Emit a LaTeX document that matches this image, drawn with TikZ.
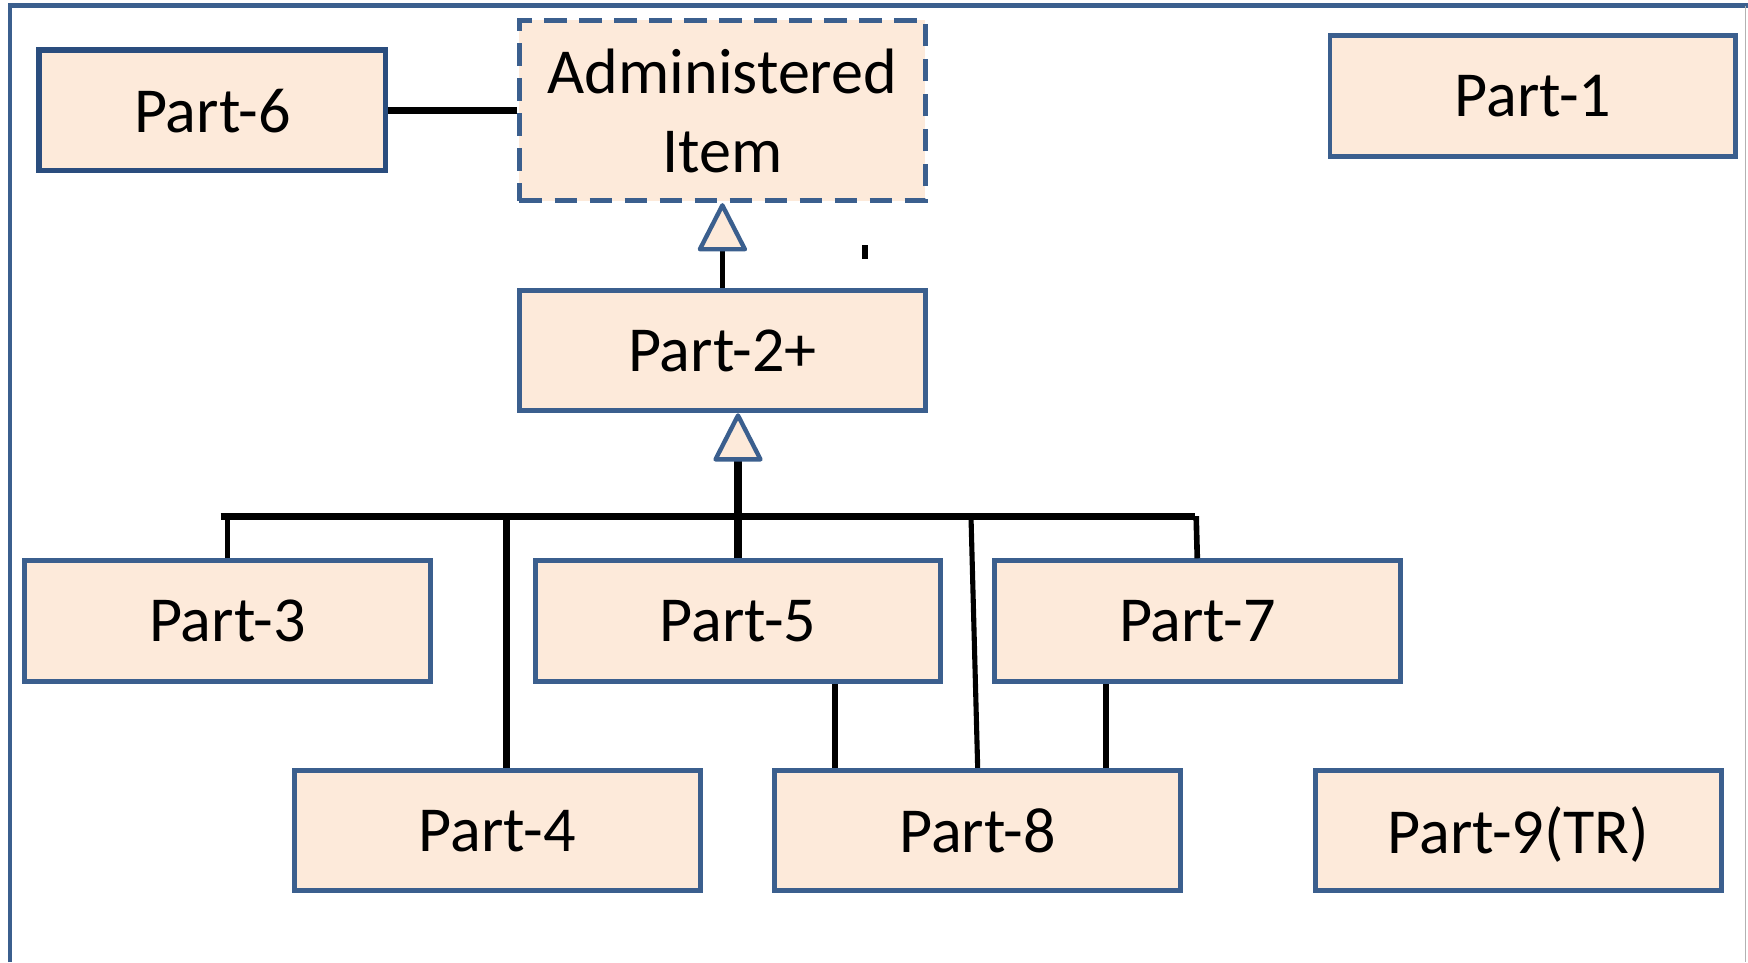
\documentclass[tikz,border=0pt]{standalone}
\usepackage{fontspec}
\setmainfont{Carlito}
\usepackage{tikz}
\usetikzlibrary{arrows.meta}
\definecolor{boxblue}{HTML}{3B5F8E}
\definecolor{boxdark}{HTML}{2A4D7E}
\definecolor{boxfill}{HTML}{FDEADA}
\def\px{0.0223cm}

\begin{document}
\begin{tikzpicture}[x=\px,y=-\px,
	partbox/.style={draw=boxblue,fill=boxfill,line width=2.8pt,inner sep=0pt,text depth=0pt,
		minimum width=364*\px,minimum height=108*\px,font=\fontsize{36.5}{45}\selectfont},
	link/.style={line width=3.2pt},
	buslink/.style={line width=4pt},
	inherit/.style={line width=3.2pt,-{Triangle[width=1.02cm,length=1.02cm,line width=2.5pt,round,color=boxblue,fill=boxfill]}}]
		\useasboundingbox (0,0) rectangle (1568,863);
		% frame
		\draw[boxblue,line width=2.8pt] (9,863) -- (9,5) -- (1568,5);
		\draw[black!30,line width=0.6pt] (1566,5) -- (1566,863);
		% boxes
		\node[partbox,draw=boxdark,line width=3.1pt,minimum width=311*\px] (p6) at (190.5,99) {Part-6};
		\node[partbox,dash pattern=on 0.45cm off 0.25cm,minimum height=162*\px,align=center] (ai) at (648,99) {Administered\\Item};
		\foreach \n/\x/\y/\t in {p1/1375/86/Part-1,p2/648/314.5/Part-2+,p3/204/557/Part-3,p5/662/557/Part-5,p7/1074/557/Part-7,p4/446/745/Part-4,p8/877/745/Part-8,p9/1362/745/Part-9(TR)} \node[partbox] (\n) at (\x,\y) {\t};
		% connectors
		\draw[link,line width=4.2pt] (p6.east) -- (ai.west);
		\draw[inherit] (p2.north) -- (ai.south);
		\coordinate (busL) at (198,463);
		\coordinate (busR) at (1072,463);
		\draw[buslink] (busL) -- (busR);
		\draw[inherit,line width=4pt] (p5.north) -- (p5.north |- p2.south);
		\draw[link] (p3.north) -- (p3.north |- busL);
		\draw[buslink] ([xshift=8*\px]p4.north) -- ([xshift=8*\px]p4.north |- busL);
		\draw[link,line width=2.9pt] (p8.north) -- ([xshift=-6*\px]p8.north |- busL);
		\draw[link] (p7.north) -- ([xshift=-1*\px]p7.north |- busR);
		\draw[link] ([xshift=-128*\px]p8.north) -- ([xshift=-128*\px]p8.north |- p5.south);
		\draw[link,line width=3.7pt] ([xshift=115*\px]p8.north) -- ([xshift=115*\px]p8.north |- p7.south);
		% stray tick
		\coordinate (tickA) at (776,220);
		\coordinate (tickB) at (776,232);
		\draw[line width=3.2pt] (tickA) -- (tickB);
	\end{tikzpicture}
\end{document}
